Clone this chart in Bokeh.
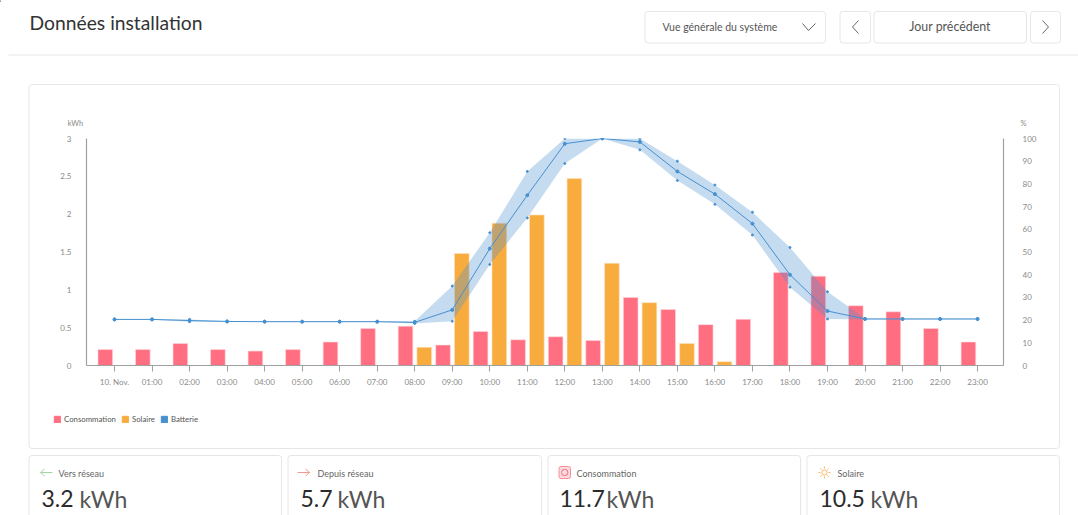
from bokeh.plotting import figure
from bokeh.core.properties import value
from bokeh.models import (Range1d, LinearAxis, FixedTicker, Legend, LegendItem, ColumnDataSource, GridBox)
from bokeh.embed import file_html
from bokeh.resources import INLINE
import math

FONT = "Lato"
hours = ["10. Nov.", "01:00", "02:00", "03:00", "04:00", "05:00", "06:00", "07:00", "08:00", "09:00", "10:00", "11:00",
         "12:00", "13:00", "14:00", "15:00", "16:00", "17:00", "18:00", "19:00", "20:00", "21:00", "22:00", "23:00"]
consommation = [.21, .21, .29, .21, .19, .21, .31, .49, .52, .27, .45, .34,
                .38, .33, .90, .74, .54, .61, 1.23, 1.18, .79, .71, .49, .31]
solaire = [0, 0, 0, 0, 0, 0, 0, 0, .24, 1.48, 1.88, 1.99, 2.47, 1.35, .83, .29, .05, 0, 0, 0, 0, 0, 0, 0]
batterie = [20.3, 20.3, 19.8, 19.4, 19.3, 19.3, 19.3, 19.3, 19.0, 24.5, 51.5, 75.0,
            97.7, 100, 98.5, 85.5, 75.5, 62.5, 40.0, 24.0, 20.5, 20.5, 20.5, 20.5]
batterie_min = [20.1, 20.1, 19.3, 19.2, 19.2, 19.2, 19.2, 19.2, 18.5, 19.5, 44.5, 65.0,
                89.0, 100, 95.0, 81.5, 71.0, 57.5, 34.5, 20.5, 20.3, 20.3, 20.3, 20.3]
batterie_max = [20.5, 20.5, 20.3, 19.6, 19.5, 19.5, 19.5, 19.5, 19.5, 35.0, 58.5, 85.5,
                100, 100, 100, 90.0, 79.5, 67.5, 52.0, 32.5, 20.7, 20.7, 20.7, 20.7]
kwh_ticks = [0, .5, 1, 1.5, 2, 2.5, 3]
kwh_labels = ["0", "0.5", "1", "1.5", "2", "2.5", "3"]
pct_ticks = [0, 10, 20, 30, 40, 50, 60, 70, 80, 90, 100]
cards = [("Vers réseau", "3.2"), ("Depuis réseau", "5.7"), ("Consommation", "11.7"), ("Solaire", "10.5")]

PINK, ORANGE, BLUE = "#ff6f81", "#f8ac3e", "#4790d0"
AX = "#a0a0a0"
TXT = "#8a8a8a"
hx = list(range(len(hours)))

# ---- page furniture: a figure whose frame is the whole page, in page pixels
bg = figure(width=1078, height=515, output_backend="svg", toolbar_location=None,
            x_range=Range1d(1, 1079), y_range=Range1d(514, -1), x_axis_type=None, y_axis_type=None,
            min_border=0, margin=(0, 0, 0, 0), frame_align=False)
bg.grid.visible = False
bg.outline_line_color = None

def text(px, py, s, size, color, align="left", base="middle"):
    bg.text(x=[px], y=[py], text=[s], text_font=value(FONT), text_font_size=f"{size}px", text_color=color,
            text_align=align, text_baseline=base)

def box(l, t, r, b, color="#e6e6e6", fill=None, radius=3):
    bg.quad(left=[l], right=[r], top=[t], bottom=[b], line_color=color, line_width=1,
            fill_color=fill if fill else "white", border_radius=radius)

def seg(x0, y0, x1, y1, color="#666666", w=1):
    bg.segment(x0=[x0], y0=[y0], x1=[x1], y1=[y1], line_color=color, line_width=w)

text(30, 21, "Données installation", 19.3, "#333333")
seg(9, 53.5, 1079, 53.5, "#e6e6e6")
box(29.5, 83, 1060, 447)
box(645.5, 10, 826, 41.5)
text(663, 25, "Vue générale du système", 10.5, "#555555")
seg(803, 22, 809, 29); seg(809, 29, 816, 22)
box(840.5, 10, 871, 41.5)
seg(859, 19, 853, 25.5); seg(853, 25.5, 859, 32)
box(874.5, 10, 1027, 41.5)
text(950.5, 25, "Jour précédent", 12.4, "#555555", "center")
box(1031, 10, 1061, 41.5)
seg(1043, 19, 1049, 25.5); seg(1049, 25.5, 1043, 32)

text(76, 122, "kWh", 7.5, TXT, "center")
text(1024, 122, "%", 7.5, TXT, "center")

cx = [(29.5, 282), (288.5, 542), (548.5, 801), (807.5, 1060)]
lab_x = [59, 318, 577, 838]
val_x = [42, 301, 560, 820]
unit_x = [80, 338, 607, 871]
for (l, r), lx, vx, ux, (name, val) in zip(cx, lab_x, val_x, unit_x, cards):
    box(l, 454, r, 530)
    text(lx, 471.5, name, 9, "#666666")
    text(vx, 497, val, 23, "#2b2b2b")
    text(ux, 497, "kWh", 23, "#555555")

G = "#a5d6a0"; R = "#f29a8e"
seg(41, 471, 53, 471, G); seg(41, 471, 45, 467.5, G); seg(41, 471, 45, 474.5, G)
seg(298, 471, 310, 471, R); seg(310, 471, 306, 467.5, R); seg(310, 471, 306, 474.5, R)
box(559.5, 465, 571, 477, "#f58f98", "#ffd9dc", 2)
bg.circle(x=[565.2], y=[471], radius=3.2, fill_color=None, line_color="#f0707f", line_width=1)
SUN = "#f9b868"
sx, sy = 825, 471
bg.circle(x=[sx], y=[sy], radius=2.6, fill_color=None, line_color=SUN, line_width=1)
for a in range(8):
    c, s = math.cos(a * math.pi / 4), math.sin(a * math.pi / 4)
    seg(sx + 4 * c, sy + 4 * s, sx + 6 * c, sy + 6 * s, SUN)

# legend keys, kept off the page, and the legend itself
key_c = bg.vbar(x=[-100], top=[-100], width=1, fill_color=PINK, line_color=PINK)
key_s = bg.vbar(x=[-100], top=[-100], width=1, fill_color=ORANGE, line_color=ORANGE)
key_b = bg.vbar(x=[-100], top=[-100], width=1, fill_color=BLUE, line_color=BLUE)
leg = Legend(items=[LegendItem(label="Consommation", renderers=[key_c]),
                    LegendItem(label="Solaire", renderers=[key_s]),
                    LegendItem(label="Batterie", renderers=[key_b])],
             orientation="horizontal", location=(53, 91), padding=0, margin=0, spacing=5,
             glyph_width=8, glyph_height=8, label_standoff=3, label_height=8, label_width=10,
             border_line_color=None, background_fill_color=None,
             label_text_font=FONT, label_text_font_size="7.8px", label_text_color="#555555")
bg.add_layout(leg, "center")

# ---- the chart, laid over the page
p = figure(width=1078, height=515, output_backend="svg", toolbar_location=None,
           x_range=Range1d(-0.746, 23.69), y_range=Range1d(0, 3),
           min_border_left=86, min_border_right=75, min_border_top=138, min_border_bottom=150,
           x_axis_type=None, y_axis_type=None, margin=(0, 0, 0, 0), frame_align=False)
p.grid.visible = False
p.outline_line_color = None
p.background_fill_color = None
p.border_fill_color = None
p.extra_y_ranges = {"pct": Range1d(0, 100)}

def style(ax):
    ax.axis_line_color = AX
    ax.axis_line_width = 1.2
    ax.major_label_text_color = TXT
    ax.major_label_text_font = FONT
    ax.major_label_text_font_size = "8px"
    ax.minor_tick_line_color = None

xa = LinearAxis(ticker=FixedTicker(ticks=hx), major_label_overrides=dict(zip(hx, hours)))
style(xa)
xa.major_tick_in = 0
xa.major_tick_out = 6
xa.major_tick_line_color = AX
xa.major_label_standoff = 5
p.add_layout(xa, "below")
ya = LinearAxis(ticker=FixedTicker(ticks=kwh_ticks), major_label_overrides=dict(zip(kwh_ticks, kwh_labels)))
style(ya)
ya.major_tick_line_color = None
ya.major_label_standoff = 9
p.add_layout(ya, "left")
y2 = LinearAxis(y_range_name="pct", ticker=FixedTicker(ticks=pct_ticks))
style(y2)
y2.major_tick_line_color = None
y2.major_label_standoff = 13
p.add_layout(y2, "right")

src = ColumnDataSource(dict(x=hx, b=batterie, lo=batterie_min, hi=batterie_max))
p.vbar(x=[i - .245 for i in hx], top=consommation, width=.39, fill_color=PINK, line_color="#ffd9de", line_width=.6)
p.vbar(x=[i + .255 for i in hx], top=solaire, width=.39, fill_color=ORANGE, line_color="#fde3bd", line_width=.6)
p.varea(x="x", y1="lo", y2="hi", source=src, y_range_name="pct", fill_color=BLUE, fill_alpha=.32)
p.line(x="x", y="b", source=src, y_range_name="pct", line_color=BLUE, line_width=1)
p.scatter(x="x", y="b", source=src, y_range_name="pct", size=3, color=BLUE)
p.scatter(x="x", y="lo", source=src, y_range_name="pct", size=2, color=BLUE)
p.scatter(x="x", y="hi", source=src, y_range_name="pct", size=2, color=BLUE)

page = GridBox(children=[(bg, 0, 0), (p, 0, 0)], margin=(0, 0, 0, 0))
open("out.html", "w").write(file_html(page, INLINE))
